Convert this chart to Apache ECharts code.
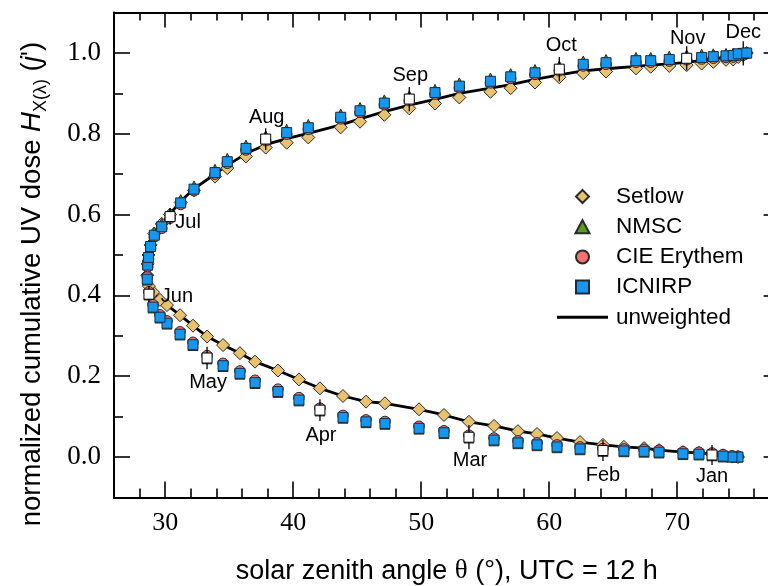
<!DOCTYPE html>
<html><head><meta charset="utf-8">
<script src="https://cdn.jsdelivr.net/npm/echarts@6/dist/echarts.min.js"></script>
<style>html,body{margin:0;padding:0;background:#fff}#c{width:768px;height:586px}</style>
</head><body><div id="c"></div>
<script>
// solar zenith angle (deg) of each sample, in time order (lower branch Dec->Jun, upper branch Jun->Dec)
const theta = [74.75,74.28,73.58,72.72,71.70,70.45,68.58,67.41,65.84,64.20,62.41,60.61,59.05,57.56,55.69,53.73,51.78,49.83,47.17,45.69,43.89,42.09,40.45,38.81,37.02,35.84,34.52,33.27,32.17,31.16,30.14,29.59,29.05,28.73,28.60,
  28.63,28.70,28.86,29.15,29.73,30.38,31.21,32.25,33.89,34.85,36.31,37.85,39.49,41.18,43.71,45.22,47.12,49.07,51.08,52.98,55.41,56.99,58.89,60.79,62.66,64.44,66.78,67.93,69.38,70.74,71.91,72.82,73.81,74.38,74.77,75.16,75.43];
const setlow = [0.000,0.001,0.004,0.007,0.010,0.012,0.017,0.022,0.025,0.030,0.037,0.047,0.057,0.064,0.077,0.087,0.104,0.118,0.133,0.137,0.151,0.170,0.192,0.214,0.236,0.257,0.277,0.298,0.325,0.351,0.376,0.389,0.408,0.423,0.450,
  0.478,0.500,0.525,0.553,0.577,0.600,0.630,0.660,0.694,0.715,0.744,0.766,0.778,0.791,0.816,0.830,0.847,0.863,0.875,0.890,0.904,0.913,0.927,0.940,0.950,0.954,0.962,0.966,0.968,0.970,0.974,0.978,0.983,0.984,0.990,0.995,1.000];
const nmsc = [0.000,0.000,0.000,0.003,0.005,0.006,0.010,0.012,0.013,0.014,0.018,0.023,0.028,0.033,0.040,0.047,0.058,0.069,0.081,0.085,0.096,0.114,0.139,0.160,0.182,0.205,0.224,0.243,0.276,0.302,0.329,0.344,0.369,0.401,0.438,
  0.483,0.502,0.529,0.557,0.578,0.603,0.637,0.671,0.712,0.739,0.772,0.795,0.811,0.823,0.849,0.865,0.884,0.894,0.910,0.926,0.938,0.949,0.959,0.968,0.980,0.984,0.989,0.989,0.992,0.995,0.997,0.998,0.999,1.000,1.000,1.000,1.000];
const cie = [0.002,0.003,0.006,0.010,0.012,0.013,0.017,0.019,0.020,0.021,0.025,0.030,0.035,0.040,0.047,0.054,0.065,0.076,0.088,0.092,0.103,0.121,0.147,0.168,0.190,0.213,0.232,0.251,0.284,0.310,0.337,0.352,0.377,0.409,0.446,
  0.471,0.490,0.517,0.545,0.566,0.591,0.625,0.659,0.700,0.727,0.760,0.783,0.799,0.811,0.837,0.853,0.872,0.882,0.898,0.914,0.926,0.937,0.947,0.956,0.968,0.972,0.977,0.977,0.980,0.983,0.985,0.987,0.989,0.990,0.994,0.995,1.000];
const icnirp = [0.000,0.000,0.002,0.005,0.007,0.008,0.012,0.014,0.015,0.016,0.020,0.025,0.030,0.035,0.042,0.049,0.060,0.071,0.083,0.087,0.098,0.116,0.141,0.162,0.184,0.207,0.226,0.245,0.278,0.304,0.331,0.346,0.371,0.403,0.440,
  0.475,0.494,0.521,0.549,0.570,0.595,0.629,0.663,0.704,0.731,0.764,0.787,0.803,0.815,0.841,0.857,0.876,0.886,0.902,0.918,0.930,0.941,0.951,0.960,0.972,0.976,0.981,0.981,0.984,0.987,0.989,0.991,0.993,0.994,0.998,0.999,1.000];
const unweighted = [0.000,0.001,0.004,0.007,0.010,0.012,0.017,0.022,0.025,0.030,0.037,0.047,0.057,0.064,0.077,0.087,0.104,0.118,0.133,0.137,0.151,0.170,0.192,0.214,0.236,0.257,0.277,0.298,0.325,0.351,0.376,0.389,0.408,0.423,0.450,
  0.478,0.500,0.525,0.553,0.578,0.602,0.633,0.664,0.700,0.722,0.751,0.773,0.788,0.801,0.822,0.837,0.855,0.871,0.885,0.900,0.913,0.922,0.935,0.946,0.956,0.961,0.967,0.970,0.973,0.977,0.982,0.986,0.990,0.992,0.995,0.998,1.000];
// first-of-month samples (open squares with error bars)
const monthNames = ['Jan','Feb','Mar','Apr','May','Jun','Jul','Aug','Sep','Oct','Nov','Dec'];
const monthIndex = [3,9,15,21,27,33,40,46,52,58,64,70];
const monthTheta = [72.72,64.20,53.73,42.09,33.27,28.73,30.38,37.85,49.07,60.79,70.74,75.16];
const monthDose = [0.005,0.016,0.049,0.116,0.245,0.403,0.595,0.787,0.886,0.960,0.987,0.999];
const monthErr = [0.025,0.026,0.030,0.027,0.028,0.020,0.020,0.027,0.030,0.030,0.030,0.030];
// axis ticks
const xMajorTicks = [30,40,50,60,70];
const xMinorTicks = [28,32,34,36,38,42,44,46,48,52,54,56,58,62,64,66,68,72,74,76];
const yMajorTicks = [0,0.2,0.4,0.6,0.8,1.0];
const yMinorTicks = [0.1,0.3,0.5,0.7,0.9];

// label placement relative to the open squares (px)
const monthLabelOffset = [[0,22],[0,25],[1,23],[1,25],[1,24],[28,2],[18,6],[1,-22],[1,-24],[2,-24],[1,-20],[0,-21]];

const pairs = arr => theta.map((t,i)=>[t,arr[i]]);
const icnirpPts = theta.map((t,i)=> monthIndex.indexOf(i) >= 0 ? null : [t, icnirp[i]]).filter(p=>p);

const XMIN=26, XMAX=78, YMIN=-0.1, YMAX=1.1;
const sans = 'Liberation Sans, Arial, sans-serif';
const serif = 'Liberation Serif, Times New Roman, serif';
const gridRect = {left:114, top:12.6, width:665.6, height:484.8, outerBoundsMode:'none', containLabel:false};
const tickStyle = {color:'#000', width:1.6};

function xAx(gridIndex, position, ticks, len, withLine, labels, extra) {
  return Object.assign({
    type:'value', gridIndex, position, min:XMIN, max:XMAX,
    axisLine:{show:withLine, onZero:false, lineStyle:{color:'#000', width:2}},
    axisTick:{show:true, inside:true, length:len, customValues:ticks, lineStyle:tickStyle},
    axisLabel: labels ? {show:true, customValues:ticks, margin:13, fontFamily:serif, fontSize:26, color:'#000'} : {show:false},
    splitLine:{show:false}
  }, extra||{});
}
function yAx(gridIndex, position, ticks, len, withLine, labels, extra) {
  return Object.assign({
    type:'value', gridIndex, position, min:YMIN, max:YMAX,
    axisLine:{show:withLine, onZero:false, lineStyle:{color:'#000', width:2}},
    axisTick:{show:true, inside:true, length:len, customValues:ticks, lineStyle:tickStyle},
    axisLabel: labels ? {show:true, customValues:ticks, margin:13, fontFamily:serif, fontSize:27, color:'#000', formatter:v=>v.toFixed(1)} : {show:false},
    splitLine:{show:false}
  }, extra||{});
}

const chart = echarts.init(document.getElementById('c'), null, {renderer:'canvas'});
const edge = '#2a2a2a';
chart.setOption({
  animation:false,
  backgroundColor:'#fff',
  grid:[Object.assign({}, gridRect), Object.assign({}, gridRect)],
  xAxis:[
    xAx(0,'bottom',xMajorTicks,16,true,true,{
      name:'{n|solar zenith angle }{t|θ}{n| (°), UTC = 12 h}', nameLocation:'middle', nameGap:59,
      nameTextStyle:{rich:{n:{fontFamily:sans,fontSize:27,color:'#000',lineHeight:30},t:{fontFamily:serif,fontSize:27,color:'#000',lineHeight:30}}}
    }),
    xAx(0,'top',xMajorTicks,15,true,false),
    xAx(1,'bottom',xMinorTicks,9,false,false),
    xAx(1,'top',xMinorTicks,8,false,false)
  ],
  yAxis:[
    yAx(0,'left',yMajorTicks,16,true,true,{
      name:'{n|normalized cumulative UV dose }{h|H}{s|X(λ)}{n| (}{j|j}{n|\')}', nameLocation:'middle', nameGap:64, nameRotate:90,
      nameTextStyle:{padding:[0,58,0,0], rich:{
        n:{fontFamily:sans,fontSize:27.5,color:'#000',lineHeight:36,verticalAlign:'middle'},
        h:{fontFamily:sans,fontSize:27.5,fontStyle:'italic',color:'#000',lineHeight:36,verticalAlign:'middle'},
        j:{fontFamily:sans,fontSize:27.5,fontStyle:'italic',color:'#000',lineHeight:36,verticalAlign:'middle'},
        s:{fontFamily:sans,fontSize:18,color:'#000',lineHeight:18,verticalAlign:'bottom'}
      }}
    }),
    yAx(0,'right',yMajorTicks,16,true,false),
    yAx(1,'left',yMinorTicks,9,false,false),
    yAx(1,'right',yMinorTicks,9,false,false)
  ],
  legend:{
    orient:'vertical', left:552, top:180, itemWidth:51, itemHeight:13, itemGap:7.2,
    data:[
      {name:'Setlow', icon:'path://M6.5,0 L13,6.5 L6.5,13 L0,6.5 Z'},
      {name:'NMSC', icon:'path://M6.5,0 L13,12 L0,12 Z'},
      {name:'CIE Erythem', icon:'path://M0,6 A6,6 0 1,1 12,6 A6,6 0 1,1 0,6 Z'},
      {name:'ICNIRP', icon:'path://M0,0 L10.5,0 L10.5,10.5 L0,10.5 Z'},
      {name:'unweighted', icon:'path://M0,0 L51,0 L51,3 L0,3 Z', itemStyle:{color:'#000', borderWidth:0}}],
    textStyle:{fontFamily:sans, fontSize:22.5, color:'#000', lineHeight:22, padding:[0,0,0,3]},
    selectedMode:false
  },
  series:[
    {name:'unweighted', type:'line', data:pairs(unweighted), symbol:'none', showSymbol:false,
     lineStyle:{color:'#000', width:2.8}, itemStyle:{color:'#000'}, z:1, silent:true},
    {name:'Setlow', type:'scatter', data:pairs(setlow), symbol:'diamond', symbolSize:13,
     itemStyle:{color:'#E8C26E', borderColor:edge, borderWidth:1, opacity:1}, z:2},
    {name:'NMSC', type:'scatter', data:pairs(nmsc), symbol:'triangle', symbolSize:10,
     itemStyle:{color:'#58A018', borderColor:edge, borderWidth:1, opacity:1}, z:3},
    {name:'CIE Erythem', type:'scatter', data:pairs(cie), symbol:'circle', symbolSize:10.5,
     itemStyle:{color:'#F37272', borderColor:edge, borderWidth:1, opacity:1}, z:4},
    {name:'errors', type:'custom', z:5,
     data: monthTheta.map((t,i)=>[t, monthDose[i], monthErr[i]]),
     renderItem:(params, api)=>{
       const x=api.value(0), y=api.value(1), e=api.value(2);
       const a=api.coord([x,y+e]), b=api.coord([x,y-e]);
       return {type:'line', shape:{x1:a[0],y1:a[1],x2:b[0],y2:b[1]}, style:{stroke:'#000', lineWidth:1.3}};
     }},
    {name:'months', type:'scatter', z:6, symbol:'rect', symbolSize:10,
     itemStyle:{color:'#fff', borderColor:'#000', borderWidth:1, opacity:1},
     data: monthTheta.map((t,i)=>({value:[t, monthDose[i]], label:{show:true, formatter:monthNames[i], position:'inside', offset:monthLabelOffset[i]}})),
     label:{fontFamily:sans, fontSize:20, color:'#000', align:'center', verticalAlign:'middle'}},
    {name:'ICNIRP', type:'scatter', data:icnirpPts, symbol:'rect', symbolSize:10, z:7,
     itemStyle:{color:'#1597F0', borderColor:'#1b2b3c', borderWidth:1, opacity:1}}
  ]
});
</script></body></html>
